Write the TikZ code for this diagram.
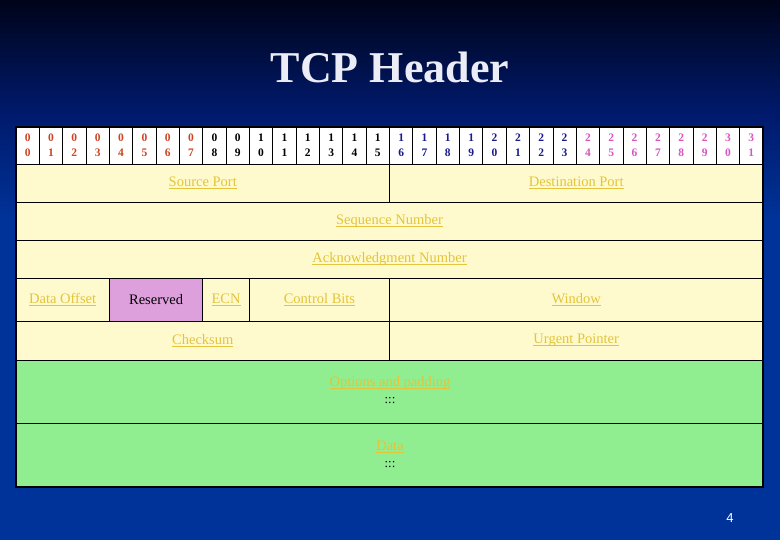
\documentclass[tikz,border=0pt]{standalone}
\usepackage{fontspec}
\setmainfont{Liberation Serif}
\newfontfamily\pagefont{Liberation Sans}
\definecolor{bgtop}{HTML}{00041A}
\definecolor{bgmid}{HTML}{00196A}
\definecolor{bgbot}{HTML}{003399}
\definecolor{cellyellow}{HTML}{FFFACD}
\definecolor{resfill}{HTML}{DDA0DD}
\definecolor{optgreen}{HTML}{90EE90}
\definecolor{lnkcol}{HTML}{E3C43A}
\definecolor{hdrA}{HTML}{CC4422}
\definecolor{hdrB}{HTML}{000000}
\definecolor{hdrC}{HTML}{1A1A8C}
\definecolor{hdrD}{HTML}{D955C0}
\definecolor{titlecol}{HTML}{ECECF6}
\newcommand{\lnk}[1]{\setbox0=\hbox{#1}\leavevmode\rlap{\rule[-2.2pt]{\wd0}{1.1pt}}\box0}
\newcommand{\tcell}[7]{%
  \pgfmathsetmacro\cw{#4-#2}\pgfmathsetmacro\ch{#5-#3}%
  \node[cellbox, fill=#6, minimum width=\cw pt, minimum height=\ch pt] (#1) at ({(#2+#4)/2},{(#3+#5)/2}) {#7};}
\begin{document}
\begin{tikzpicture}[x=1pt,y=-1pt,
  cellbox/.style={draw=black, line width=0.8pt, inner sep=0pt, outer sep=0pt,
    font=\fontsize{14.5}{16}\selectfont, text=lnkcol, align=center},
  hdrbox/.style={draw=black, line width=0.8pt, fill=white, inner sep=0pt, outer sep=0pt,
    font=\fontsize{11.5}{15}\selectfont\bfseries, align=center},
  titletext/.style={font=\fontsize{44}{48}\selectfont\bfseries, text=titlecol, inner sep=0pt},
  dotstext/.style={font=\fontsize{13}{13}\selectfont, text=black, inner sep=0pt}]
\useasboundingbox (0,0) rectangle (780,540);
% background
\shade[top color=bgtop, bottom color=bgbot, middle color=bgmid] (0,0) rectangle (780,220);
\fill[bgbot] (0,219.5) rectangle (780,540);
% title
\node[titletext, anchor=base] (title) at (390,83) {TCP Header};
% header row
\pgfmathsetmacro\w{(763-16)/32}
\foreach \i in {0,...,31}{
  \pgfmathtruncatemacro\tens{\i/10}
  \pgfmathtruncatemacro\ones{mod(\i,10)}
  \pgfmathsetmacro\xa{16+\i*\w}
  \pgfmathsetmacro\xb{16+(\i+1)*\w}
  \ifnum\i<8 \def\hc{hdrA}\else\ifnum\i<16 \def\hc{hdrB}\else\ifnum\i<24 \def\hc{hdrC}\else\def\hc{hdrD}\fi\fi\fi
  \pgfmathsetmacro\cw{\xb-\xa}
  \node[hdrbox, text=\hc, minimum width=\cw pt, minimum height=37pt] (h\i) at ({(\xa+\xb)/2},145.5) {\tens\\\ones};
}
\pgfmathsetmacro\xmid{16+16*\w}
\pgfmathsetmacro\xfour{16+4*\w}
\pgfmathsetmacro\xeight{16+8*\w}
\pgfmathsetmacro\xten{16+10*\w}
\tcell{srcport}{16}{164}{\xmid}{202}{cellyellow}{\lnk{Source Port}}
\tcell{dstport}{\xmid}{164}{763}{202}{cellyellow}{\lnk{Destination Port}}
\tcell{seqnum}{16}{202}{763}{240}{cellyellow}{\lnk{Sequence Number}}
\tcell{acknum}{16}{240}{763}{278}{cellyellow}{\lnk{Acknowledgment Number}}
\tcell{dataoff}{16}{278}{\xfour}{321.5}{cellyellow}{\lnk{Data Offset}}
\tcell{reserved}{\xfour}{278}{\xeight}{321.5}{resfill}{\textcolor{black}{Reserved}}
\tcell{ecn}{\xeight}{278}{\xten}{321.5}{cellyellow}{\lnk{ECN}}
\tcell{ctrlbits}{\xten}{278}{\xmid}{321.5}{cellyellow}{\lnk{Control Bits}}
\tcell{window}{\xmid}{278}{763}{321.5}{cellyellow}{\lnk{Window}}
\tcell{checksum}{16}{321.5}{\xmid}{360}{cellyellow}{\lnk{Checksum}}
\tcell{urgent}{\xmid}{321.5}{763}{360}{cellyellow}{\lnk{Urgent Pointer}}
\tcell{options}{16}{360}{763}{423}{optgreen}{}
\tcell{data}{16}{423}{763}{487}{optgreen}{}
\node[cellbox, draw=none] (optlabel) at (390,383) {\lnk{Options and padding}};
\node[dotstext] (optdots) at (390,401) {:::};
\node[cellbox, draw=none] (datalabel) at (390,447) {\lnk{Data}};
\node[dotstext] (datadots) at (390,465) {:::};
% outer frame
\draw[line width=1.2pt, black] (h0.north west) rectangle (data.south east);
% page number
\node[text=white, font=\pagefont\fontsize{13}{14}\selectfont] (pagenum) at (730,518) {4};
\end{tikzpicture}
\end{document}
